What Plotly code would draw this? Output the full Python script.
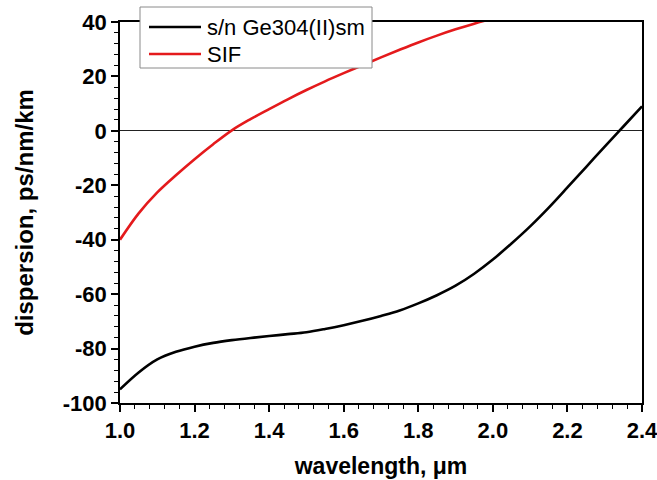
import plotly.graph_objects as go

# Data
sif_wl = [1.0, 1.05, 1.1, 1.15, 1.2, 1.25, 1.3, 1.35, 1.4, 1.45, 1.5,
          1.55, 1.6, 1.65, 1.7, 1.75, 1.8, 1.85, 1.9, 1.95, 2.0]
sif_d = [-40.0, -30.3, -22.6, -16.3, -10.4, -4.9, 0.2, 4.3, 8.0, 11.6, 15.0,
         18.2, 21.2, 24.1, 27.0, 29.8, 32.5, 35.0, 37.3, 39.4, 41.3]

ge_wl = [1.0, 1.05, 1.1, 1.15, 1.2, 1.25, 1.3, 1.35, 1.4, 1.45, 1.5, 1.55, 1.6,
         1.65, 1.7, 1.75, 1.8, 1.85, 1.9, 1.95, 2.0, 2.05, 2.1, 2.15, 2.2, 2.25,
         2.3, 2.35, 2.4]
ge_d = [-95.0, -88.8, -84.0, -81.2, -79.3, -77.9, -76.9, -76.1, -75.4, -74.7, -74.0,
        -72.8, -71.4, -69.8, -68.0, -66.0, -63.4, -60.4, -56.9, -52.5, -47.3, -41.4,
        -35.1, -28.2, -20.8, -13.3, -5.8, 1.6, 9.0]

names = ["s/n Ge304(II)sm", "SIF"]
colors = ["black", "#e41a1c"]
x_ticks = [1.0, 1.2, 1.4, 1.6, 1.8, 2.0, 2.2, 2.4]
y_ticks = [-100, -80, -60, -40, -20, 0, 20, 40]

FONT = "Liberation Sans, Arial, sans-serif"

W, H = 657, 480
ML, MR, MT, MB = 120, 15, 22, 77
PW, PH = W - ML - MR, H - MT - MB


def px2paper_x(px):
    return (px - ML) / PW


def px2paper_y(py):
    return (H - MB - py) / PH


fig = go.Figure()
for wl, d, nm, col in [(ge_wl, ge_d, names[0], colors[0]), (sif_wl, sif_d, names[1], colors[1])]:
    fig.add_trace(go.Scatter(x=wl, y=d, mode="lines", name=nm, showlegend=False,
                             line=dict(color=col, width=2.6, shape="spline", smoothing=1.0)))

axis_common = dict(
    showline=True, linecolor="black", linewidth=1.5, mirror=True,
    showgrid=False, ticks="outside", ticklen=7, tickwidth=1.5, tickcolor="black",
    tickfont=dict(family=FONT, size=22, color="black", weight="bold"),
    automargin=False, ticklabeloverflow="allow",
)

fig.update_xaxes(
    range=[1.0, 2.4], tickvals=x_ticks, ticktext=[f"{v:.1f}" for v in x_ticks],
    zeroline=False,
    minor=dict(dtick=0.04, tick0=0, ticks="outside", ticklen=4, tickwidth=1.2, tickcolor="black"),
    title=dict(text="wavelength, μm", font=dict(family=FONT, size=23, color="black", weight="bold"),
               standoff=16),
    **axis_common,
)
fig.update_yaxes(
    range=[-100, 40], tickvals=y_ticks, ticktext=[str(v) for v in y_ticks],
    zeroline=True, zerolinecolor="#222", zerolinewidth=1.4,
    minor=dict(dtick=4, tick0=0, ticks="outside", ticklen=4, tickwidth=1.2, tickcolor="black"),
    title=dict(text="dispersion, ps/nm/km", font=dict(family=FONT, size=24, color="black", weight="bold"),
               standoff=22),
    **axis_common,
)

# Legend drawn as a box, sample lines and text (paper coordinates)
shapes = [dict(type="rect", xref="paper", yref="paper",
               x0=px2paper_x(140), x1=px2paper_x(372), y0=px2paper_y(68), y1=px2paper_y(7),
               fillcolor="white", line=dict(color="#8a8a8a", width=1), layer="above")]
annotations = []
for i, (nm, col) in enumerate(zip(names, colors)):
    yy = px2paper_y(27 + i * 27)
    shapes.append(dict(type="line", xref="paper", yref="paper",
                       x0=px2paper_x(149), x1=px2paper_x(201), y0=yy, y1=yy,
                       line=dict(color=col, width=2.6), layer="above"))
    annotations.append(dict(xref="paper", yref="paper", x=px2paper_x(205), y=yy,
                            xanchor="left", yanchor="middle", text=nm, showarrow=False,
                            font=dict(family=FONT, size=22, color="black")))

fig.update_layout(
    width=W, height=H,
    margin=dict(l=ML, r=MR, t=MT, b=MB),
    plot_bgcolor="white", paper_bgcolor="white",
    showlegend=False,
    shapes=shapes, annotations=annotations,
)

fig.write_html("out.html")
